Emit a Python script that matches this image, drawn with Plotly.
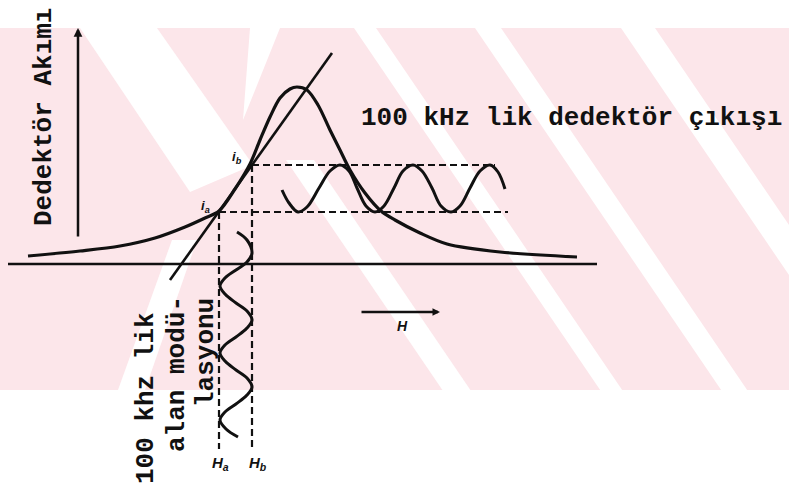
import plotly.graph_objects as go

# ---------------- data (drawing units: x = H, y = current above the H axis) -------------
BASE = 264  # pixel row of the H axis in the scan; y values below are heights above it

# resonance curve (detector current vs H)
curve_h = [28, 80, 120, 155, 185, 205, 219, 235, 250, 260, 270, 280, 290, 297, 307, 318, 330, 340, 350, 365, 381, 395, 420, 447, 500, 577]
curve_i = [8, 13, 18, 26, 37, 46, 53, 75, 100, 124, 147, 166, 175, 177, 174, 159, 134, 114, 94, 71, 53, 44, 31, 20, 12, 7]

# straight line through the working points
tangent_h = [170, 332]
tangent_i = [-16, 211]

# working points
H_a, H_b = 219, 252
i_a, i_b = 52, 99

# 100 kHz detector output (horizontal sine)
out_h = [282, 289, 298, 307, 319, 330, 340, 349, 357, 366, 375, 384, 394, 403, 413, 422, 432, 441, 451, 460, 470, 480, 490, 498, 505]
out_i = [74, 61, 52, 57, 76, 93, 99, 93, 76, 58, 52, 58, 76, 93, 99, 93, 76, 58, 52, 58, 76, 93, 99, 92, 75]

# 100 kHz field modulation (vertical sine)
mod_h = [237, 247, 252, 247, 236, 225, 220, 225, 236, 247, 252, 247, 236, 225, 220, 225, 236, 247, 252, 247, 236, 225, 220, 226, 238]
mod_i = [32, 24, 11, 2, -6, -14, -22, -30, -39, -47, -56, -64, -73, -81, -89, -97, -106, -114, -123, -131, -140, -148, -156, -165, -173]

# extents of guide lines
axis_h = [8, 597]
vaxis_x, vaxis_i = 78, [26, 236]
upper_dash_end, lower_dash_end = 495, 508
dash_bottom = -185
h_arrow_h, h_arrow_i = [360, 440], -48

labels = {
    "ylabel": "Dedektör Akımı",
    "out": "100 kHz lik dedektör çıkışı",
    "mod1": "100 khz lik",
    "mod2": "alan modü-",
    "mod3": "lasyonu",
}

# faint watermark (pixel coordinates of the scan)
wm_band = [(0, 28), (789, 28), (789, 390), (0, 390)]
wm_white = [
    [(80, 28), (157, 28), (253, 165), (190, 192)],
    [(250, 28), (280, 28), (243, 120)],
    [(118, 390), (145, 390), (197, 240), (172, 240)],
]
# "\" stripes: (x at y_start, y_start, half width)
wm_stripes = [(365, 28, 11), (488, 28, 13), (638, 28, 17), (300, 160, 14)]
wm_slope = 0.68  # px of x per px of y

# ---------------------------------------------------------------------------------------------
INK = "#111111"
PINK = "#fce6ea"
MONO = "Liberation Mono"

fig = go.Figure()


def path_from(pts):
    return "M " + " L ".join(f"{x},{BASE - y}" for x, y in pts) + " Z"


shapes = [dict(type="path", path=path_from(wm_band), fillcolor=PINK, line=dict(width=0), layer="below")]
for poly in wm_white:
    shapes.append(dict(type="path", path=path_from(poly), fillcolor="white", line=dict(width=0), layer="below"))
for x0, y0, hw in wm_stripes:
    dx = wm_slope * (390 - y0)
    poly = [(x0 - hw, y0), (x0 + hw, y0), (x0 + hw + dx, 390), (x0 - hw + dx, 390)]
    shapes.append(dict(type="path", path=path_from(poly), fillcolor="white", line=dict(width=0), layer="below"))

# H axis
fig.add_trace(go.Scatter(x=axis_h, y=[0, 0], mode="lines", line=dict(color=INK, width=2.5), hoverinfo="skip"))
# resonance curve
fig.add_trace(go.Scatter(x=curve_h, y=curve_i, mode="lines", line=dict(color=INK, width=3.2, shape="spline", smoothing=0.9), hoverinfo="skip"))
# tangent
fig.add_trace(go.Scatter(x=tangent_h, y=tangent_i, mode="lines", line=dict(color=INK, width=2.6), hoverinfo="skip"))
# dashed guide lines
dash = dict(color=INK, width=2.2, dash="7px,4px")
fig.add_trace(go.Scatter(x=[H_b, upper_dash_end], y=[i_b, i_b], mode="lines", line=dash, hoverinfo="skip"))
fig.add_trace(go.Scatter(x=[H_a, lower_dash_end], y=[i_a, i_a], mode="lines", line=dash, hoverinfo="skip"))
fig.add_trace(go.Scatter(x=[H_a, H_a], y=[i_a, dash_bottom], mode="lines", line=dash, hoverinfo="skip"))
fig.add_trace(go.Scatter(x=[H_b, H_b], y=[i_b, dash_bottom], mode="lines", line=dash, hoverinfo="skip"))
# output sine
fig.add_trace(go.Scatter(x=out_h, y=out_i, mode="lines", line=dict(color=INK, width=3, shape="spline", smoothing=1.0), hoverinfo="skip"))
# modulation sine
fig.add_trace(go.Scatter(x=mod_h, y=mod_i, mode="lines", line=dict(color=INK, width=3, shape="spline", smoothing=1.0), hoverinfo="skip"))

annotations = [
    # vertical axis arrow
    dict(x=vaxis_x, y=vaxis_i[1], ax=vaxis_x, ay=vaxis_i[0], xref="x", yref="y", axref="x", ayref="y",
         text="", showarrow=True, arrowhead=2, arrowsize=0.7, arrowwidth=2.5, arrowcolor=INK),
    # H arrow
    dict(x=h_arrow_h[1], y=h_arrow_i, ax=h_arrow_h[0], ay=h_arrow_i, xref="x", yref="y", axref="x", ayref="y",
         text="", showarrow=True, arrowhead=2, arrowsize=0.6, arrowwidth=2.5, arrowcolor=INK),
    dict(x=402, y=-62, text="<b><i>H</i></b>", showarrow=False, font=dict(family="Liberation Sans", size=14, color=INK)),
    dict(x=H_a + 1, y=-199, text="<b><i>H<sub>a</sub></i></b>", showarrow=False, font=dict(family="Liberation Sans", size=15, color=INK)),
    dict(x=H_b + 6, y=-199, text="<b><i>H<sub>b</sub></i></b>", showarrow=False, font=dict(family="Liberation Sans", size=15, color=INK)),
    dict(x=237, y=107, text="<b><i>i<sub>b</sub></i></b>", showarrow=False, font=dict(family="Liberation Sans", size=13, color=INK)),
    dict(x=205, y=58, text="<b><i>i<sub>a</sub></i></b>", showarrow=False, font=dict(family="Liberation Sans", size=13, color=INK)),
    dict(x=44, y=BASE - 117, text=f"<b>{labels['ylabel']}</b>", textangle=-90, showarrow=False,
         font=dict(family=MONO, size=26, color=INK)),
    dict(x=571, y=BASE - 118, text=f"<b>{labels['out']}</b>", showarrow=False, font=dict(family=MONO, size=26, color=INK)),
    dict(x=146, y=BASE - 398, text=f"<b>{labels['mod1']}</b>", textangle=-90, showarrow=False, font=dict(family=MONO, size=26, color=INK)),
    dict(x=177, y=BASE - 374, text=f"<b>{labels['mod2']}</b>", textangle=-90, showarrow=False, font=dict(family=MONO, size=26, color=INK)),
    dict(x=206, y=BASE - 353, text=f"<b>{labels['mod3']}</b>", textangle=-90, showarrow=False, font=dict(family=MONO, size=26, color=INK)),
]

fig.update_layout(
    width=789, height=491,
    margin=dict(l=0, r=0, t=0, b=0),
    paper_bgcolor="white", plot_bgcolor="white",
    showlegend=False,
    xaxis=dict(range=[0, 789], visible=False, fixedrange=True),
    yaxis=dict(range=[BASE - 491, BASE], visible=False, fixedrange=True),
    shapes=shapes,
    annotations=annotations,
)

fig.write_html("out.html", config={"displayModeBar": False},
               post_script="document.body.style.margin='0';")
